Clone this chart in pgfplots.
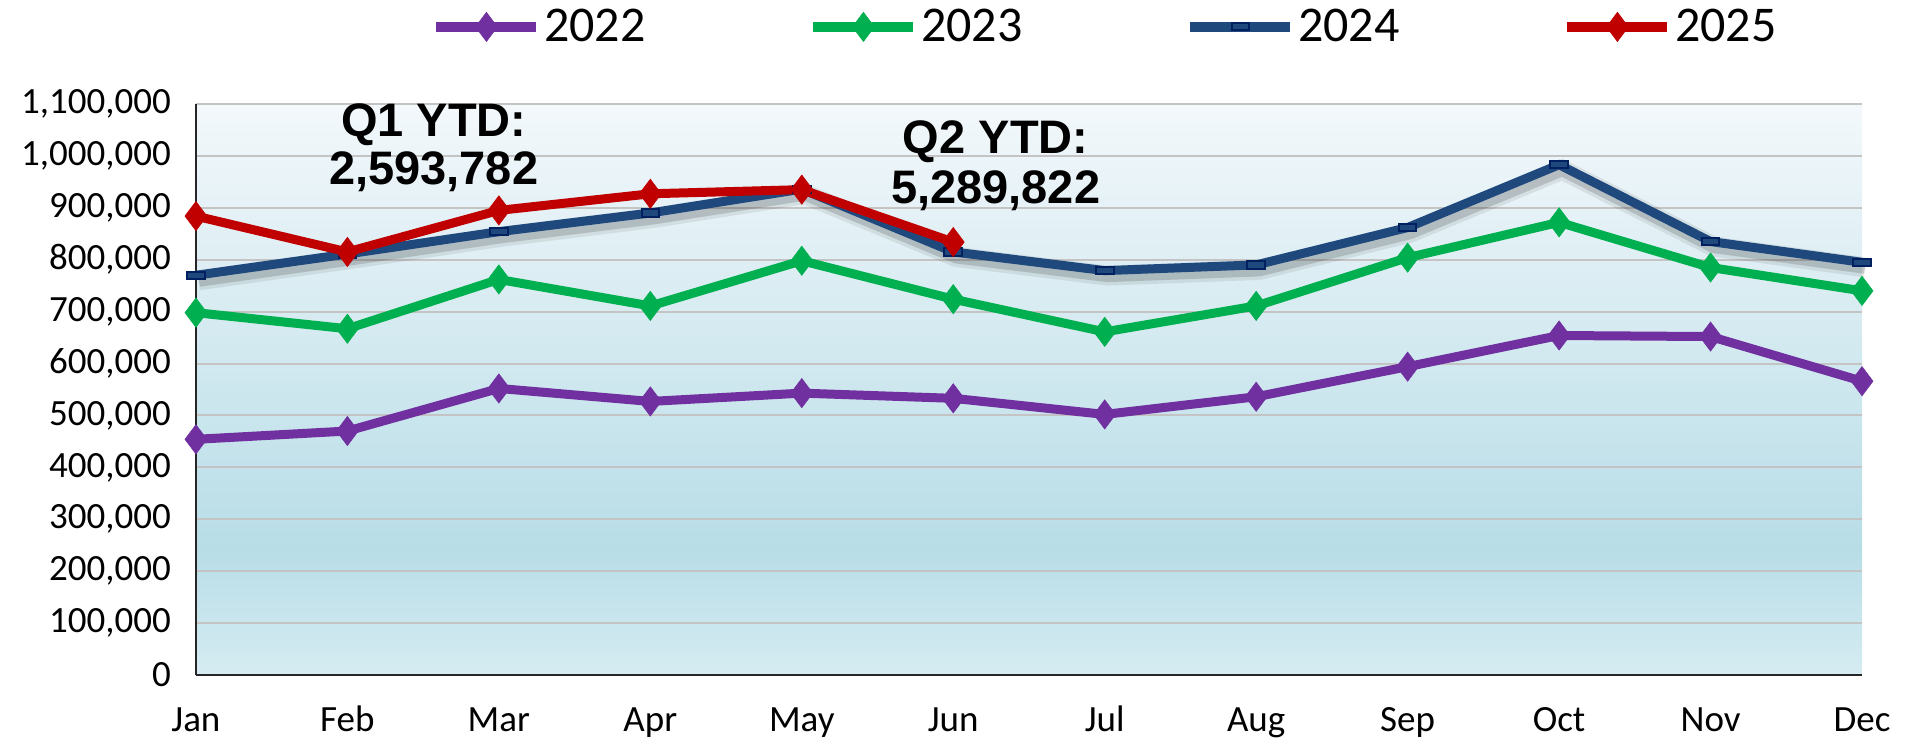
\documentclass[border=0pt]{standalone}
\usepackage{pgfplots}
\pgfplotsset{compat=1.18}
\usepackage{pgfplotstable}
\usepackage{fontspec}
\setmainfont{Carlito}
\newfontfamily\annot{Liberation Sans}

\definecolor{c22}{HTML}{7030A0}
\definecolor{c23}{HTML}{00B050}
\definecolor{c24}{HTML}{1F497D}
\definecolor{c24d}{HTML}{002060}
\definecolor{c25}{HTML}{C00000}
\definecolor{bgtop}{HTML}{F3F8FB}
\definecolor{bgdark}{HTML}{B8DDE7}
\definecolor{bgbot}{HTML}{D6ECF2}
\definecolor{gridc}{HTML}{C4C4C4}

\pgfdeclareverticalshading{plotbg}{100bp}{color(0bp)=(bgbot); color(25bp)=(bgbot); color(36bp)=(bgdark); color(75bp)=(bgtop); color(100bp)=(bgtop)}

\pgfplotstableread{
m y22 y23 y24 y25
0 454000 698000 770000 884000
1 470000 667000 811000 815000
2 552000 762000 854000 895000
3 527000 711000 890000 927000
4 543000 798000 936000 935000
5 533000 724000 815000 834000
6 502000 661000 779000 nan
7 536000 711000 790000 nan
8 594000 804000 862000 nan
9 654000 872000 983000 nan
10 652000 785000 835000 nan
11 566000 740000 795000 nan
}\datatable

\begin{document}
\begin{tikzpicture}
\begin{axis}[
  scale only axis,
  width=833pt, height=285.5pt,
  xmin=0, xmax=11,
  ymin=0, ymax=1100000,
  clip=false,
  unbounded coords=discard,
  axis background/.style={shade, shading=plotbg},
  axis lines*=left,
  axis line style={draw=black!85, line width=0.9pt},
  xtick={0,...,11},
  xticklabels={Jan,Feb,Mar,Apr,May,Jun,Jul,Aug,Sep,Oct,Nov,Dec},
  ytick={0,100000,...,1100000},
  scaled y ticks=false,
  /pgf/number format/fixed,
  /pgf/number format/1000 sep={,},
  /pgf/number format/assume math mode=true,
  major tick length=0pt,
  ymajorgrids,
  major grid style={draw=gridc, line width=1pt},
  tick label style={font=\fontsize{18.5pt}{21pt}\selectfont, text=black},
  yticklabel style={xshift=-9pt},
  xticklabel style={yshift=-17pt, text height=0.75em, text depth=0.25em},
  legend columns=4,
  legend style={at={(0.546,1.135)}, anchor=center, draw=none, fill=none,
    font=\fontsize{25pt}{28pt}\selectfont,
    /tikz/every even column/.append style={column sep=80pt},
    nodes={inner sep=1.5pt}},
  legend image code/.code={\draw[line width=4.8pt, mark repeat=2,mark phase=2] plot coordinates {(0pt,0pt) (25pt,0pt) (50pt,0pt)};},
]
\addplot[c22, line width=4.5pt, mark=diamond*, mark size=7.3pt,
  mark options={solid, line width=0.3pt, fill=c22, draw=c22}]
  table[x=m, y=y22] {\datatable};
\addlegendentry{2022}
\addplot[c23, line width=4.5pt, mark=diamond*, mark size=7.3pt,
  mark options={solid, line width=0.3pt, fill=c23, draw=c23}]
  table[x=m, y=y23] {\datatable};
\addlegendentry{2023}
% soft shadow of 2024 line
\addplot[forget plot, black, opacity=0.08, line width=10pt, no marks,
  transform canvas={shift={(1.5pt,-2.5pt)}}]
  table[x=m, y=y24] {\datatable};
\addplot[forget plot, black, opacity=0.15, line width=6.5pt, no marks,
  transform canvas={shift={(1.5pt,-2.5pt)}}]
  table[x=m, y=y24] {\datatable};
\addplot[c24, line width=4.5pt, mark=square*, mark size=2pt,
  mark options={solid, line width=1pt, fill=c24, draw=c24d, xscale=2.2, yscale=0.9}]
  table[x=m, y=y24] {\datatable};
\addlegendentry{2024}
\addplot[c25, line width=4.5pt, mark=diamond*, mark size=7.3pt,
  mark options={solid, line width=0.3pt, fill=c25, draw=c25}]
  table[x=m, y=y25] {\datatable};
\addlegendentry{2025}

\node[font=\annot\bfseries\fontsize{23.5pt}{24pt}\selectfont, align=center]
  at (axis cs:1.57,1015000) {Q1 YTD:\\2,593,782};
\node[font=\annot\bfseries\fontsize{23.5pt}{25pt}\selectfont, align=center]
  at (axis cs:5.28,981000) {Q2 YTD:\\5,289,822};

\coordinate (bbl) at (rel axis cs:-0.1176,-0.1208);
\coordinate (btr) at (rel axis cs:1.0324,1.1821);
\end{axis}
\pgfresetboundingbox
\path (bbl) rectangle (btr);
\end{tikzpicture}
\end{document}
